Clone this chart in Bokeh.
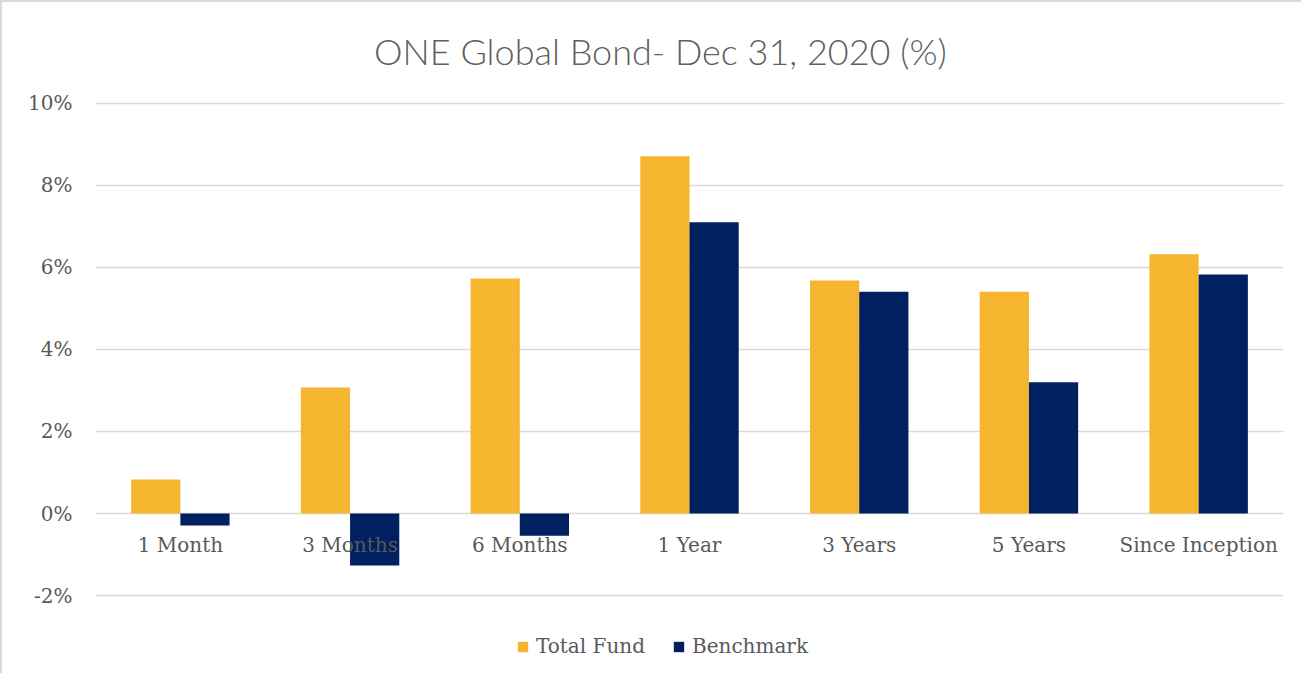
from bokeh.plotting import figure
from bokeh.models import (FactorRange, Range1d, FixedTicker, PrintfTickFormatter,
                          Legend, LegendItem, ColumnDataSource, Label)
from bokeh.transform import dodge
from bokeh.core.properties import value
from bokeh.embed import file_html
from bokeh.resources import INLINE

title_text = "ONE Global Bond- Dec 31, 2020 (%)"
categories = ["1 Month", "3 Months", "6 Months", "1 Year", "3 Years", "5 Years", "Since Inception"]
total_fund = [0.83, 3.07, 5.73, 8.71, 5.68, 5.41, 6.32]
benchmark = [-0.29, -1.27, -0.54, 7.10, 5.41, 3.20, 5.83]
y_ticks = [-2, 0, 2, 4, 6, 8, 10]
series_names = ["Total Fund", "Benchmark"]

ORANGE = "#F5B52E"
NAVY = "#002060"
GRAY_TXT = "#595959"
SERIF = "DejaVu Serif"

src = ColumnDataSource(dict(cat=categories, tf=total_fund, bm=benchmark,
                            zero=[0] * len(categories)))

p = figure(x_range=FactorRange(factors=categories, range_padding=0),
           y_range=Range1d(-3.95, 12.46),
           width=1301, height=673, output_backend="svg", toolbar_location=None,
           min_border_left=93, min_border_right=20, min_border_top=0,
           min_border_bottom=0)
p.title.visible = False

p.styles = {"border-left": "2px solid #d9d9d9", "border-top": "2px solid #d9d9d9"}

bw = 0.29
r_tf = p.vbar(x=dodge("cat", -bw / 2, range=p.x_range), top="tf", bottom=0, width=bw,
              source=src, fill_color=ORANGE, line_color=None)
r_bm = p.vbar(x=dodge("cat", bw / 2, range=p.x_range), top="bm", bottom=0, width=bw,
              source=src, fill_color=NAVY, line_color=None)

# category labels sit just below the 0% line
p.text(x="cat", y="zero", text="cat", source=src, y_offset=31,
       text_align="center", text_baseline="middle",
       text_font=value(SERIF), text_font_size="20px", text_color=GRAY_TXT)

# chart title
p.add_layout(Label(x=565, y=625, x_units="screen", y_units="screen", text=title_text,
                   text_align="center", text_baseline="middle",
                   text_font="Lato Light, Lato", text_font_size="36px",
                   text_color="#5f5f5f"))

p.xaxis.visible = False
p.xgrid.grid_line_color = None

p.yaxis.ticker = FixedTicker(ticks=y_ticks)
p.yaxis.formatter = PrintfTickFormatter(format="%d%%")
p.yaxis.axis_line_color = None
p.yaxis.major_tick_line_color = None
p.yaxis.minor_tick_line_color = None
p.yaxis.major_tick_out = 0
p.yaxis.major_tick_in = 0
p.yaxis.major_label_standoff = 23
p.yaxis.major_label_text_font = SERIF
p.yaxis.major_label_text_font_size = "20px"
p.yaxis.major_label_text_color = GRAY_TXT

p.ygrid.ticker = FixedTicker(ticks=y_ticks)
p.ygrid.grid_line_color = "#D9D9D9"
p.ygrid.grid_line_width = 1.5

p.outline_line_color = None

legend = Legend(items=[LegendItem(label=series_names[0], renderers=[r_tf]),
                       LegendItem(label=series_names[1], renderers=[r_bm])],
                orientation="horizontal", location=(421, 17))
legend.glyph_width = 13
legend.glyph_height = 13
legend.label_standoff = 7
legend.spacing = 27
legend.padding = 0
legend.margin = 0
legend.border_line_color = None
legend.background_fill_alpha = 0
legend.label_text_font = SERIF
legend.label_text_font_size = "20px"
legend.label_text_color = GRAY_TXT
p.add_layout(legend)

open("out.html", "w").write(file_html(p, INLINE))
